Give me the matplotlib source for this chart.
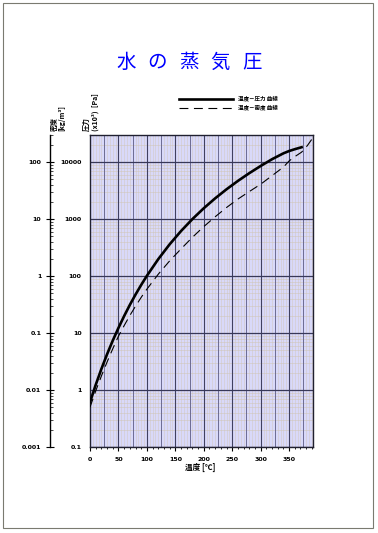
import matplotlib
matplotlib.use("Agg")
import matplotlib.pyplot as plt
from matplotlib.lines import Line2D
from matplotlib.patches import Rectangle
from matplotlib.ticker import FixedLocator, LogLocator, NullFormatter, MultipleLocator
import numpy as np

plt.rcParams['font.family'] = ['Noto Sans CJK JP', 'DejaVu Sans']

# 温度 [℃] と 圧力 [x10^3 Pa]
temp_p = [0, 10, 20, 30, 40, 50, 60, 70, 80, 90, 100, 120, 140, 160, 180,
          200, 220, 240, 260, 280, 300, 320, 340, 350, 360, 372]
pressure = [0.61, 1.23, 2.34, 4.25, 7.38, 12.3, 19.9, 31.2, 47.4, 70.1, 101.3,
            198.5, 361.5, 618, 1002, 1554, 2318, 3344, 4688, 6412, 8581,
            11274, 14300, 15700, 16900, 18300]

# 温度 [℃] と 密度 [kg/m3]
temp_d = [0, 10, 20, 30, 40, 50, 60, 70, 80, 90, 100, 120, 140, 160, 180,
          200, 220, 240, 260, 280, 300, 320, 340, 350, 360, 372, 382, 392]
density = [0.0050, 0.0096, 0.0176, 0.031, 0.053, 0.088, 0.135, 0.203,
           0.296, 0.424, 0.59, 1.08, 1.85, 3.0, 4.8, 7.4, 11.0, 16.0,
           22.5, 30.5, 41.0, 58.0, 82.0, 105, 125, 150, 195, 270]

x_ticks = [0, 50, 100, 150, 200, 250, 300, 350]
p_ticks = [0.1, 1, 10, 100, 1000, 10000]
p_labels = ['0.1', '1', '10', '100', '1000', '10000']
d_ticks = [0.001, 0.01, 0.1, 1, 10, 100]
d_labels = ['0.001', '0.01', '0.1', '1', '10', '100']

title = '水の蒸気圧'
legend_labels = ['温度－圧力 曲線', '温度－密度 曲線']

W, H = 378, 533
fig = plt.figure(figsize=(W / 100, H / 100), dpi=100)

def fx(px):
    return px / W

def fy(py):
    return 1 - py / H

# page frame
fig.add_artist(Rectangle((fx(3), fy(528)), fx(370), 525 / H, transform=fig.transFigure,
                         fill=False, ec='#7a7a70', lw=0.8))

ax = fig.add_axes([fx(90), fy(447), fx(223), 312 / H])
ax.set_facecolor('#d9d9f9')
ax.set_xlim(0, 392)
ax.set_yscale('log')
ax.set_ylim(0.1, 30000)

# grid
for v in np.arange(5, 392, 5):
    ax.axvline(v, color='#cfc4ae', lw=0.5, alpha=0.55, zorder=0.5)
for v in np.arange(25, 392, 50):
    ax.axvline(v, color='#5c5c88', lw=0.6, zorder=0.6)
for v in np.arange(50, 392, 50):
    ax.axvline(v, color='#404060', lw=0.8, zorder=0.7)
for dec in [0.1, 1, 10, 100, 1000, 10000]:
    for m in range(2, 10):
        if dec * m < 30000:
            ax.axhline(dec * m, color='#cfc4ae', lw=0.5, alpha=0.65, zorder=0.5)
    ax.axhline(dec, color='#383858', lw=0.9, zorder=0.7)

ax.plot(temp_p, pressure, color='black', lw=1.9, zorder=3)

ax.xaxis.set_major_locator(FixedLocator(x_ticks))
ax.xaxis.set_minor_locator(MultipleLocator(10))
ax.set_xticklabels([str(t) for t in x_ticks], fontsize=4.5, fontweight='bold',
                   family='DejaVu Sans')
ax.tick_params(axis='x', which='major', direction='out', length=3, width=0.8, pad=4)
ax.tick_params(axis='x', which='minor', direction='out', length=1.5, width=0.6)
ax.yaxis.set_major_locator(FixedLocator(p_ticks))
ax.yaxis.set_minor_locator(LogLocator(subs=[]))
ax.set_yticklabels(p_labels, fontsize=4.5, fontweight='bold', family='DejaVu Sans')
ax.tick_params(axis='y', which='both', length=0, pad=6)
for s in ax.spines.values():
    s.set_color('#202030')
    s.set_linewidth(1.0)

# density axis (outer left)
ax2 = ax.twinx()
ax2.set_yscale('log')
ax2.set_ylim(0.001, 300)
ax2.plot(temp_d, density, color='black', lw=0.8, dashes=(8, 5), zorder=3)
ax2.yaxis.tick_left()
ax2.spines['left'].set_position(('outward', 29))
ax2.spines['left'].set_visible(True)
ax2.spines['left'].set_linewidth(1.0)
for k in ['right', 'top', 'bottom']:
    ax2.spines[k].set_visible(False)
ax2.yaxis.set_major_locator(FixedLocator(d_ticks))
ax2.yaxis.set_minor_locator(LogLocator(subs=np.arange(2, 10)))
ax2.yaxis.set_minor_formatter(NullFormatter())
ax2.set_yticklabels(d_labels, fontsize=4.5, fontweight='bold', family='DejaVu Sans')
ax2.tick_params(axis='y', which='major', direction='inout', length=6, width=0.8, pad=3)
ax2.tick_params(axis='y', which='minor', direction='in', length=2, width=0.5)

# title, one character at a time for the wide lettering
for i, ch in enumerate(title):
    fig.text(fx(126 + 31.5 * i), fy(62), ch, color='#0000ff', fontsize=14,
             ha='center', va='center')

# axis captions
fig.text(fx(58), fy(131), '密度\n[kg/m³]', rotation=90, fontsize=5,
         fontweight='bold', ha='center', va='bottom', multialignment='left')
fig.text(fx(91), fy(131), '圧力\n(x10³)  [Pa]', rotation=90, fontsize=5,
         fontweight='bold', ha='center', va='bottom', multialignment='left')
fig.text(fx(200), fy(467), '温度 [℃]', fontsize=5.5, fontweight='bold',
         ha='center', va='center')

# legend
fig.add_artist(Line2D([fx(179), fx(233)], [fy(99), fy(99)], color='black', lw=1.9,
                      transform=fig.transFigure))
fig.add_artist(Line2D([fx(179), fx(233)], [fy(108), fy(108)], color='black', lw=0.8,
                      dashes=(8, 5), transform=fig.transFigure))
fig.text(fx(238), fy(99), legend_labels[0], fontsize=4, fontweight='bold',
         ha='left', va='center')
fig.text(fx(238), fy(108), legend_labels[1], fontsize=4, fontweight='bold',
         ha='left', va='center')

fig.savefig('out.png', dpi=100)
